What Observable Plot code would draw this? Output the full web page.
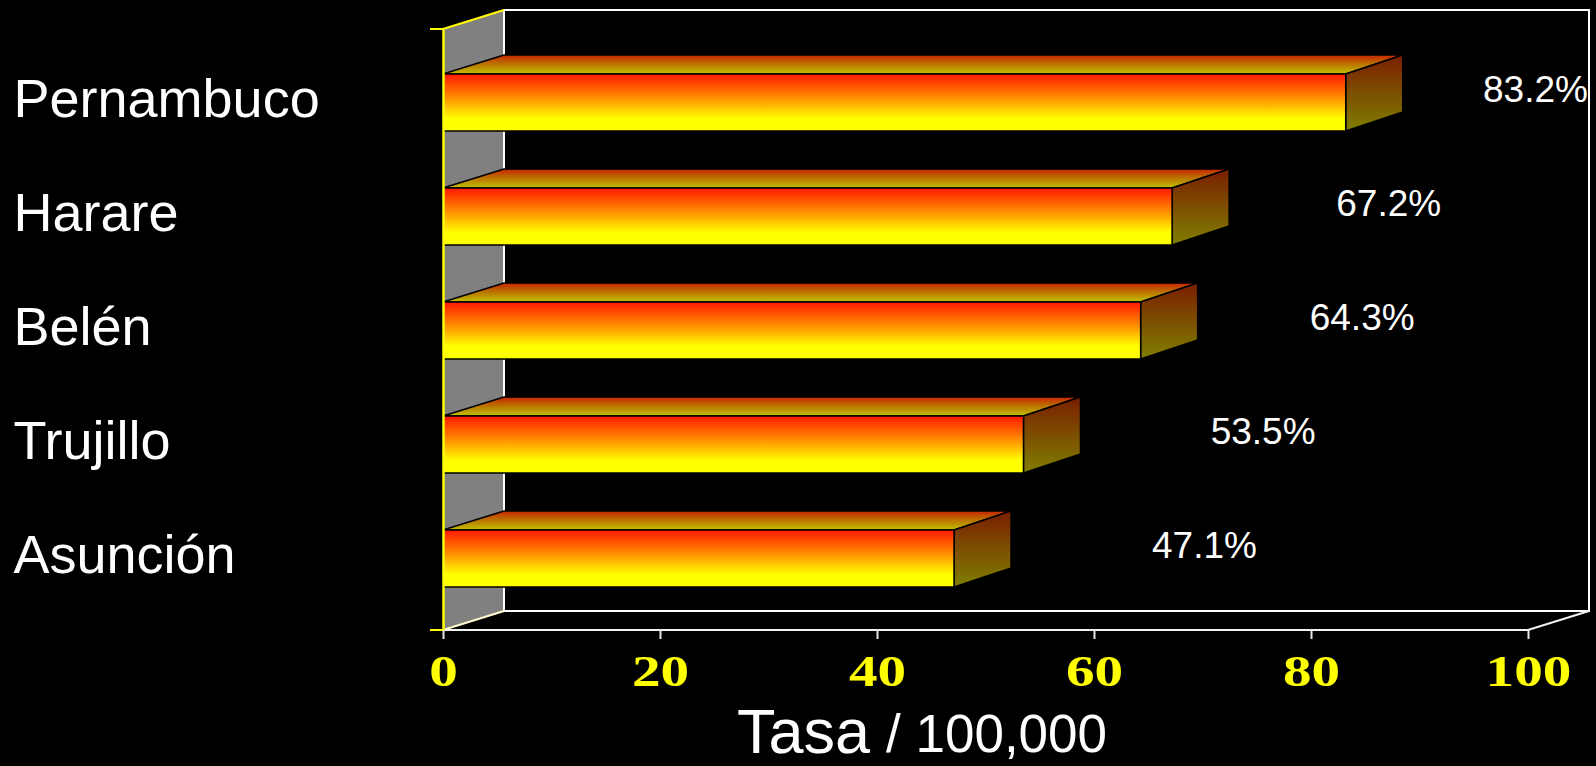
<!DOCTYPE html>
<html>
<head>
<meta charset="utf-8">
<script src="https://cdn.jsdelivr.net/npm/d3@7"></script>
<script src="https://cdn.jsdelivr.net/npm/@observablehq/plot@0.6"></script>
<style>
  html, body { margin: 0; padding: 0; background: #000; }
</style>
</head>
<body>
<div id="chart"></div>
<script>
// ---- data ----
const categories = ["Pernambuco", "Harare", "Belén", "Trujillo", "Asunción"];
const rates = [83.2, 67.2, 64.3, 53.5, 47.1];
const valueLabels = ["83.2%", "67.2%", "64.3%", "53.5%", "47.1%"];
const xTicks = [0, 20, 40, 60, 80, 100];
const xTitleMain = "Tasa";
const xTitleUnit = "/ 100,000";

const data = categories.map((category, i) => ({category, value: rates[i], label: valueLabels[i]}));

// ---- layout / style ----
const W = 1596, H = 766;
const WALL_DX = 61, WALL_DY = -19;   // 3D depth of walls
const BAR_DX_L = 61, BAR_DX_R = 57, BAR_DY = -19;
const SANS = "Liberation Sans, Arial, sans-serif";
const SERIF = "Liberation Serif, Times New Roman, serif";

function backdrop(index, scales, values, dims) {
  const x = scales.x;
  const x0 = x(0), x1 = x(100);
  const yT = dims.marginTop, yB = dims.height - dims.marginBottom;
  const g = d3.create("svg:g");
  const defs = g.append("defs");
  const grad = (id, stops) => {
    const lg = defs.append("linearGradient").attr("id", id).attr("x1", 0).attr("y1", 0).attr("x2", 0).attr("y2", 1);
    for (const [o, c] of stops) lg.append("stop").attr("offset", o).attr("stop-color", c);
  };
  grad("grad-front", [[0, "#ff1800"], [0.4, "#ff8a00"], [0.78, "#ffff00"], [1, "#ffff00"]]);
  grad("grad-top", [[0, "#c82400"], [0.45, "#bb7000"], [1, "#c0c000"]]);
  grad("grad-end", [[0, "#7a1e00"], [1, "#7f7f00"]]);
  // gray side wall
  g.append("path")
    .attr("d", `M${x0},${yT}L${x0 + WALL_DX},${yT + WALL_DY}L${x0 + WALL_DX},${yB + WALL_DY}L${x0},${yB}Z`)
    .attr("fill", "#808080");
  // back plane outline
  g.append("path")
    .attr("d", `M${x0 + WALL_DX},${yB + WALL_DY}V${yT + WALL_DY}H${x1 + WALL_DX}V${yB + WALL_DY}Z`)
    .attr("fill", "none").attr("stroke", "#fff").attr("stroke-width", 2);
  // floor edges
  g.append("path")
    .attr("d", `M${x0},${yB}H${x1}L${x1 + WALL_DX},${yB + WALL_DY}`)
    .attr("fill", "none").attr("stroke", "#f2f2f2").attr("stroke-width", 2);
  g.append("path")
    .attr("d", `M${x0},${yB}L${x0 + WALL_DX},${yB + WALL_DY}`)
    .attr("fill", "none").attr("stroke", "#fffbd0").attr("stroke-width", 2);
  // wall top edge
  g.append("path")
    .attr("d", `M${x0},${yT}L${x0 + WALL_DX},${yT + WALL_DY}`)
    .attr("fill", "none").attr("stroke", "#ffff00").attr("stroke-width", 2);
  return g.node();
}

function barSides(index, scales) {
  const {x, y} = scales;
  const bw = y.bandwidth();
  const g = d3.create("svg:g").attr("stroke", "#000").attr("stroke-width", 1.5).attr("stroke-linejoin", "round");
  for (const d of data) {
    const xa = x(0), xb = x(d.value), yt = y(d.category), yb = yt + bw;
    g.append("path")
      .attr("d", `M${xa},${yt}L${xb},${yt}L${xb + BAR_DX_R},${yt + BAR_DY}L${xa + BAR_DX_L},${yt + BAR_DY}Z`)
      .attr("fill", "url(#grad-top)");
    g.append("path")
      .attr("d", `M${xb},${yt}L${xb + BAR_DX_R},${yt + BAR_DY}L${xb + BAR_DX_R},${yb + BAR_DY}L${xb},${yb}Z`)
      .attr("fill", "url(#grad-end)");
  }
  return g.node();
}

function leftAxisTicks(index, scales, values, dims) {
  const x0 = scales.x(0);
  const yT = dims.marginTop, yB = dims.height - dims.marginBottom;
  const g = d3.create("svg:g").attr("stroke", "#ffff00").attr("stroke-width", 2);
  g.append("path").attr("d", `M${x0 - 13},${yT}H${x0}M${x0 - 13},${yB}H${x0}`);
  return g.node();
}

const plot = Plot.plot({
  width: W,
  height: H,
  marginTop: 29,
  marginRight: 68,
  marginBottom: 136,
  marginLeft: 443,
  style: {background: "#000", color: "#fff", fontFamily: SANS, overflow: "visible"},
  x: {domain: [0, 100]},
  y: {domain: categories, range: [43.1, 617.1], paddingInner: 0.5, paddingOuter: 0.25, axis: null},
  marks: [
    backdrop,
    barSides,
    Plot.barX(data, {x: "value", y: "category", fill: "url(#grad-front)", stroke: "#000", strokeWidth: 1.5}),
    Plot.ruleX([0], {stroke: "#ffff00", strokeWidth: 2.5}),
    leftAxisTicks,
    Plot.axisX(xTicks, {
      tickSize: 9, tickPadding: 15, stroke: "#e6e6e6", strokeWidth: 2,
      fill: "#ffff00", fontSize: 44, fontWeight: "bold", fontFamily: SERIF, label: null
    }),
    Plot.text(data, {
      y: "category", text: "category", frameAnchor: "left", textAnchor: "start",
      dx: -430, dy: -3, fontSize: 54, fill: "#fff", fontFamily: SANS
    }),
    Plot.text(data, {
      x: d => d.value * 0.845 + 25.5, y: "category", text: "label", textAnchor: "start",
      dy: -13, fontSize: 37, fill: "#fff", fontFamily: SANS
    }),
    Plot.text([xTitleMain], {
      text: d => d, frameAnchor: "bottom", textAnchor: "end", lineAnchor: "middle",
      dx: -116, dy: 102, fontSize: 63, fill: "#fff", fontFamily: SANS
    }),
    Plot.text([xTitleUnit], {
      text: d => d, frameAnchor: "bottom", textAnchor: "start", lineAnchor: "middle",
      dx: -100, dy: 105, fontSize: 53, fill: "#fff", fontFamily: SANS
    })
  ]
});

// widen the serif tick numerals as in the original
plot.querySelectorAll('g[aria-label="x-axis tick label"] text').forEach(t => {
  const tr = t.getAttribute("transform");
  if (tr) t.setAttribute("transform", tr + " scale(1.3,1)");
});

document.getElementById("chart").appendChild(plot);
</script>
</body>
</html>
